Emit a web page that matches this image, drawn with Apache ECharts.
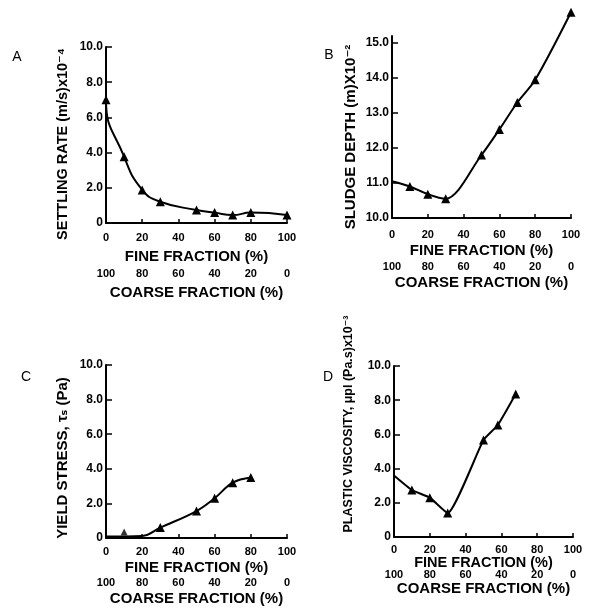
<!DOCTYPE html>
<html>
<head>
<meta charset="utf-8">
<script src="https://cdn.jsdelivr.net/npm/echarts@6/dist/echarts.min.js"></script>
<style>
html,body{margin:0;padding:0;background:#fff;}
#chart{width:596px;height:610px;}
</style>
</head>
<body>
<div id="chart"></div>
<script>
// ---- data ----
const fineTicks = [0, 20, 40, 60, 80, 100];
const coarseTicks = [0, 20, 40, 60, 80, 100];

const yTicksA = [0, 2, 4, 6, 8, 10];
const xA = [0, 0, 10, 20, 30, 50, 60, 70, 80, 100];
const yA = [9.3, 7.0, 3.77, 1.88, 1.21, 0.74, 0.59, 0.45, 0.59, 0.45];
const markA = [false, true, true, true, true, true, true, true, true, true];

const yTicksB = [10, 11, 12, 13, 14, 15];
const xB = [0, 10, 20, 30, 50, 60, 70, 80, 100];
const yB = [11.05, 10.9, 10.68, 10.55, 11.8, 12.53, 13.3, 13.95, 15.88];
const markB = [false, true, true, true, true, true, true, true, true];

const yTicksC = [0, 2, 4, 6, 8, 10];
const xC = [0, 20, 30, 50, 60, 70, 80];
const yC = [0.08, 0.12, 0.6, 1.56, 2.3, 3.2, 3.5];
const markC = [false, false, true, true, true, true, true];
const xCextra = [10];
const yCextra = [0.35];

const yTicksD = [0, 2, 4, 6, 8, 10];
const xD = [0, 10, 20, 30, 50, 58, 68];
const yD = [3.6, 2.75, 2.3, 1.4, 5.67, 6.55, 8.36];
const markD = [false, true, true, true, true, true, true];

// ---- helpers ----
const FONT = '"Liberation Sans", Arial, "DejaVu Sans", sans-serif';
const fmtY = v => v === 0 ? '0' : v.toFixed(1);
const toData = (xs, ys, marks) => xs.map((x, i) => marks[i] ? [x, ys[i]] : {value: [x, ys[i]], symbol: 'none'});

const grids = [
  {left: 106, top: 47, width: 181, height: 176},
  {left: 392, top: 36, width: 179, height: 182},
  {left: 106, top: 365, width: 181, height: 173},
  {left: 394, top: 366, width: 179, height: 171}
];
const panels = [
  {yMin: 0, yMax: 10, yTicks: yTicksA, labMargin: 9, coarseOffset: 36, gap: 26, nameSize: 15},
  {yMin: 10, yMax: 15.2, yTicks: yTicksB, labMargin: 11, coarseOffset: 32, gap: 25, nameSize: 15},
  {yMin: 0, yMax: 10, yTicks: yTicksC, labMargin: 8, coarseOffset: 31, gap: 22, nameSize: 15},
  {yMin: 0, yMax: 10, yTicks: yTicksD, labMargin: 7, coarseOffset: 25, gap: 18, nameSize: 14.5}
];

const xAxes = [], yAxes = [];
panels.forEach((p, i) => {
  xAxes.push({
    gridIndex: i, type: 'value', min: 0, max: 100, position: 'bottom',
    name: 'FINE FRACTION (%)', nameLocation: 'middle', nameGap: p.gap,
    nameTextStyle: {fontFamily: FONT, fontWeight: 'bold', fontSize: p.nameSize, color: '#000'},
    axisLine: {show: true, onZero: false, lineStyle: {color: '#000', width: 2}},
    axisTick: {show: true, inside: true, length: 4, customValues: fineTicks, lineStyle: {color: '#000', width: 1.5}},
    axisLabel: {customValues: fineTicks, margin: p.labMargin, fontFamily: FONT, fontWeight: 'bold', fontSize: 11, color: '#000'},
    splitLine: {show: false}
  });
  xAxes.push({
    gridIndex: i, type: 'value', min: 0, max: 100, position: 'bottom', inverse: true, offset: p.coarseOffset,
    name: 'COARSE FRACTION (%)', nameLocation: 'middle', nameGap: p.gap - (i === 3 ? -1 : 0),
    nameTextStyle: {fontFamily: FONT, fontWeight: 'bold', fontSize: 15, color: '#000'},
    axisLine: {show: false}, axisTick: {show: false},
    axisLabel: {customValues: coarseTicks, margin: p.labMargin, fontFamily: FONT, fontWeight: 'bold', fontSize: 11, color: '#000'},
    splitLine: {show: false}
  });
  yAxes.push({
    gridIndex: i, type: 'value', min: p.yMin, max: p.yMax,
    axisLine: {show: true, onZero: false, lineStyle: {color: '#000', width: 2}},
    axisTick: {show: true, inside: true, length: 6, customValues: p.yTicks, lineStyle: {color: '#000', width: 1.5}},
    axisLabel: {customValues: p.yTicks, formatter: fmtY, margin: 3, fontFamily: FONT, fontWeight: 'bold', fontSize: 12, color: '#000'},
    splitLine: {show: false}
  });
});

const lineStyle = {color: '#000', width: 2};
const common = {type: 'line', symbol: 'triangle', symbolSize: 9, itemStyle: {color: '#000'}, lineStyle: lineStyle, clip: false, animation: false};

const series = [
  Object.assign({}, common, {xAxisIndex: 0, yAxisIndex: 0, smooth: 0.5, data: toData(xA, yA, markA)}),
  Object.assign({}, common, {xAxisIndex: 2, yAxisIndex: 1, smooth: 0.3, data: toData(xB, yB, markB)}),
  Object.assign({}, common, {xAxisIndex: 4, yAxisIndex: 2, smooth: 0.4, data: toData(xC, yC, markC)}),
  {type: 'scatter', xAxisIndex: 4, yAxisIndex: 2, symbol: 'triangle', symbolSize: 7, itemStyle: {color: '#000'}, animation: false,
   data: xCextra.map((x, i) => [x, yCextra[i]])},
  Object.assign({}, common, {xAxisIndex: 6, yAxisIndex: 3, smooth: 0.15, data: toData(xD, yD, markD)})
];

const txt = (text, x, y, size, rot, bold) => ({
  type: 'text', x: x, y: y, rotation: rot ? Math.PI / 2 : 0,
  style: {text: text, font: (bold ? 'bold ' : '') + size + 'px ' + FONT, fill: '#000', align: 'center', verticalAlign: 'middle'}
});

const graphic = [
  txt('A', 17, 57, 14, false, false),
  txt('B', 329, 55, 14, false, false),
  txt('C', 26, 377, 14, false, false),
  txt('D', 328, 377, 14, false, false),
  txt('SETTLING RATE (m/s)x10\u207B\u2074', 63, 144, 14.5, true, true),
  txt('SLUDGE DEPTH (m)X10\u207B\u00B2', 351, 137, 15, true, true),
  txt('YIELD STRESS, \u03C4\u209B (Pa)', 63, 458, 15, true, true),
  txt('PLASTIC VISCOSITY, \u03BCpl (Pa.s)x10\u207B\u00B3', 349, 424, 12.5, true, true)
];

const chart = echarts.init(document.getElementById('chart'), null, {renderer: 'canvas'});
chart.setOption({
  backgroundColor: '#fff',
  animation: false,
  grid: grids,
  xAxis: xAxes,
  yAxis: yAxes,
  series: series,
  graphic: graphic
});
</script>
</body>
</html>
